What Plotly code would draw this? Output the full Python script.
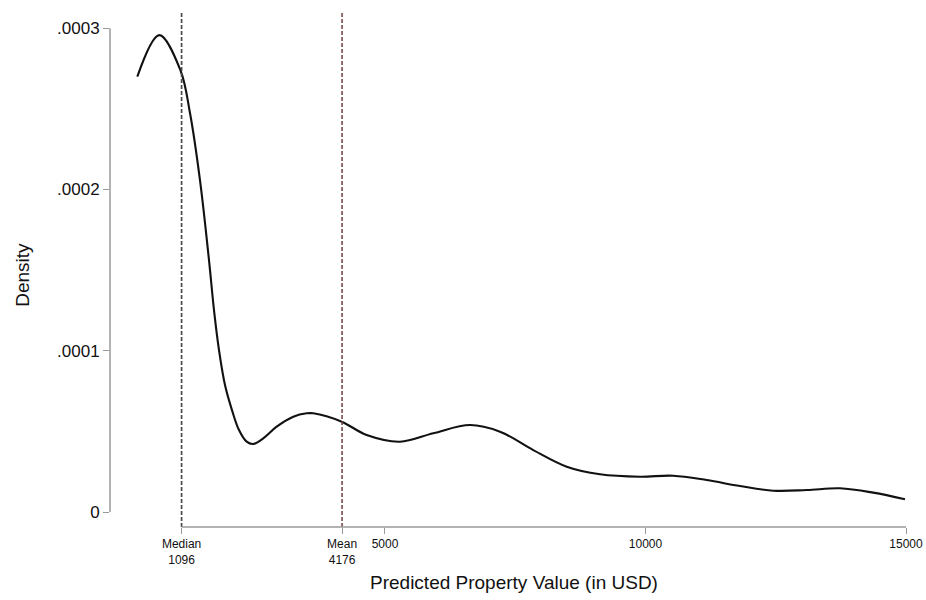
import plotly.graph_objects as go

# Kernel density estimate of predicted property values (USD)
value_usd = [246, 668, 1073, 1257, 1449, 1622, 1718, 1814, 1929, 2063, 2198, 2345, 2472,
             2664, 2921, 3240, 3497, 3624, 4169, 4649, 5288, 5927, 6631, 7207, 7846,
             8488, 9127, 9894, 10534, 11175, 11814, 12453, 13094, 13733, 14372, 14981]
density = [0.0002699, 0.0002957, 0.000274, 0.0002474, 0.0002058, 0.0001562, 0.0001252,
           0.0001004, 0.0000787, 0.0000632, 0.0000508, 0.0000436, 0.0000422, 0.0000457,
           0.0000529, 0.0000591, 0.0000612, 0.0000612, 0.000056, 0.0000477, 0.0000436,
           0.0000488, 0.0000539, 0.0000498, 0.0000384, 0.0000281, 0.0000234, 0.0000219,
           0.0000225, 0.0000198, 0.0000161, 0.0000132, 0.0000136, 0.0000147, 0.000012,
           0.0000079]

median_value = 1096
mean_value = 4176

x_tickvals = [median_value, mean_value, 5000, 10000, 15000]
x_ticktext = ["Median<br>1096", "Mean<br>4176", "5000", "10000", "15000"]
y_tickvals = [0, 0.0001, 0.0002, 0.0003]
y_ticktext = ["0", ".0001", ".0002", ".0003"]

FONT = "Liberation Sans, Arial, Helvetica, sans-serif"
AXIS_GREY = "#9a9a9a"

fig = go.Figure()
fig.add_trace(go.Scatter(
    x=value_usd, y=density, mode="lines",
    line=dict(color="#111111", width=2.1, shape="spline", smoothing=1.0),
    hoverinfo="skip", showlegend=False,
))

shapes = [
    # reference lines for median and mean
    dict(type="line", xref="x", yref="paper", x0=median_value, x1=median_value, y0=0, y1=1,
         line=dict(color="#4a4a4a", width=1.7, dash="4px,2px")),
    dict(type="line", xref="x", yref="paper", x0=mean_value, x1=mean_value, y0=0, y1=1,
         line=dict(color="#6e3f42", width=1.5, dash="4px,2px")),
    # axis lines spanning only the labelled range
    dict(type="line", xref="x", yref="paper", x0=median_value, x1=15000, y0=0, y1=0,
         line=dict(color=AXIS_GREY, width=1.5)),
    dict(type="line", xref="paper", yref="y", x0=0, x1=0, y0=0, y1=0.0003,
         line=dict(color=AXIS_GREY, width=1.5)),
]

annotations = [
    dict(text="Predicted Property Value (in USD)", xref="paper", yref="paper",
         x=0.507, y=-0.083, xanchor="center", yanchor="top", showarrow=False,
         font=dict(family=FONT, size=19, color="#111111")),
    dict(text="Density", xref="paper", yref="paper", x=-0.111, y=0.49,
         xanchor="center", yanchor="middle", textangle=-90, showarrow=False,
         font=dict(family=FONT, size=19, color="#111111")),
]

fig.update_layout(
    width=926, height=600,
    margin=dict(l=110, r=20, t=13, b=73, autoexpand=False),
    paper_bgcolor="white", plot_bgcolor="white",
    shapes=shapes, annotations=annotations,
    xaxis=dict(range=[-278, 15000], tickvals=x_tickvals, ticktext=x_ticktext,
               ticks="outside", ticklen=6, tickwidth=1.3, tickcolor=AXIS_GREY,
               showline=False, showgrid=False, zeroline=False, automargin=False,
               tickfont=dict(family=FONT, size=12, color="#111111")),
    yaxis=dict(range=[-0.0000093, 0.0003094], tickvals=y_tickvals, ticktext=y_ticktext,
               ticks="outside", ticklen=6, tickwidth=1.3, tickcolor=AXIS_GREY,
               showline=False, showgrid=False, zeroline=False, automargin=False,
               tickfont=dict(family=FONT, size=17, color="#111111")),
)

fig.write_html("out.html")
